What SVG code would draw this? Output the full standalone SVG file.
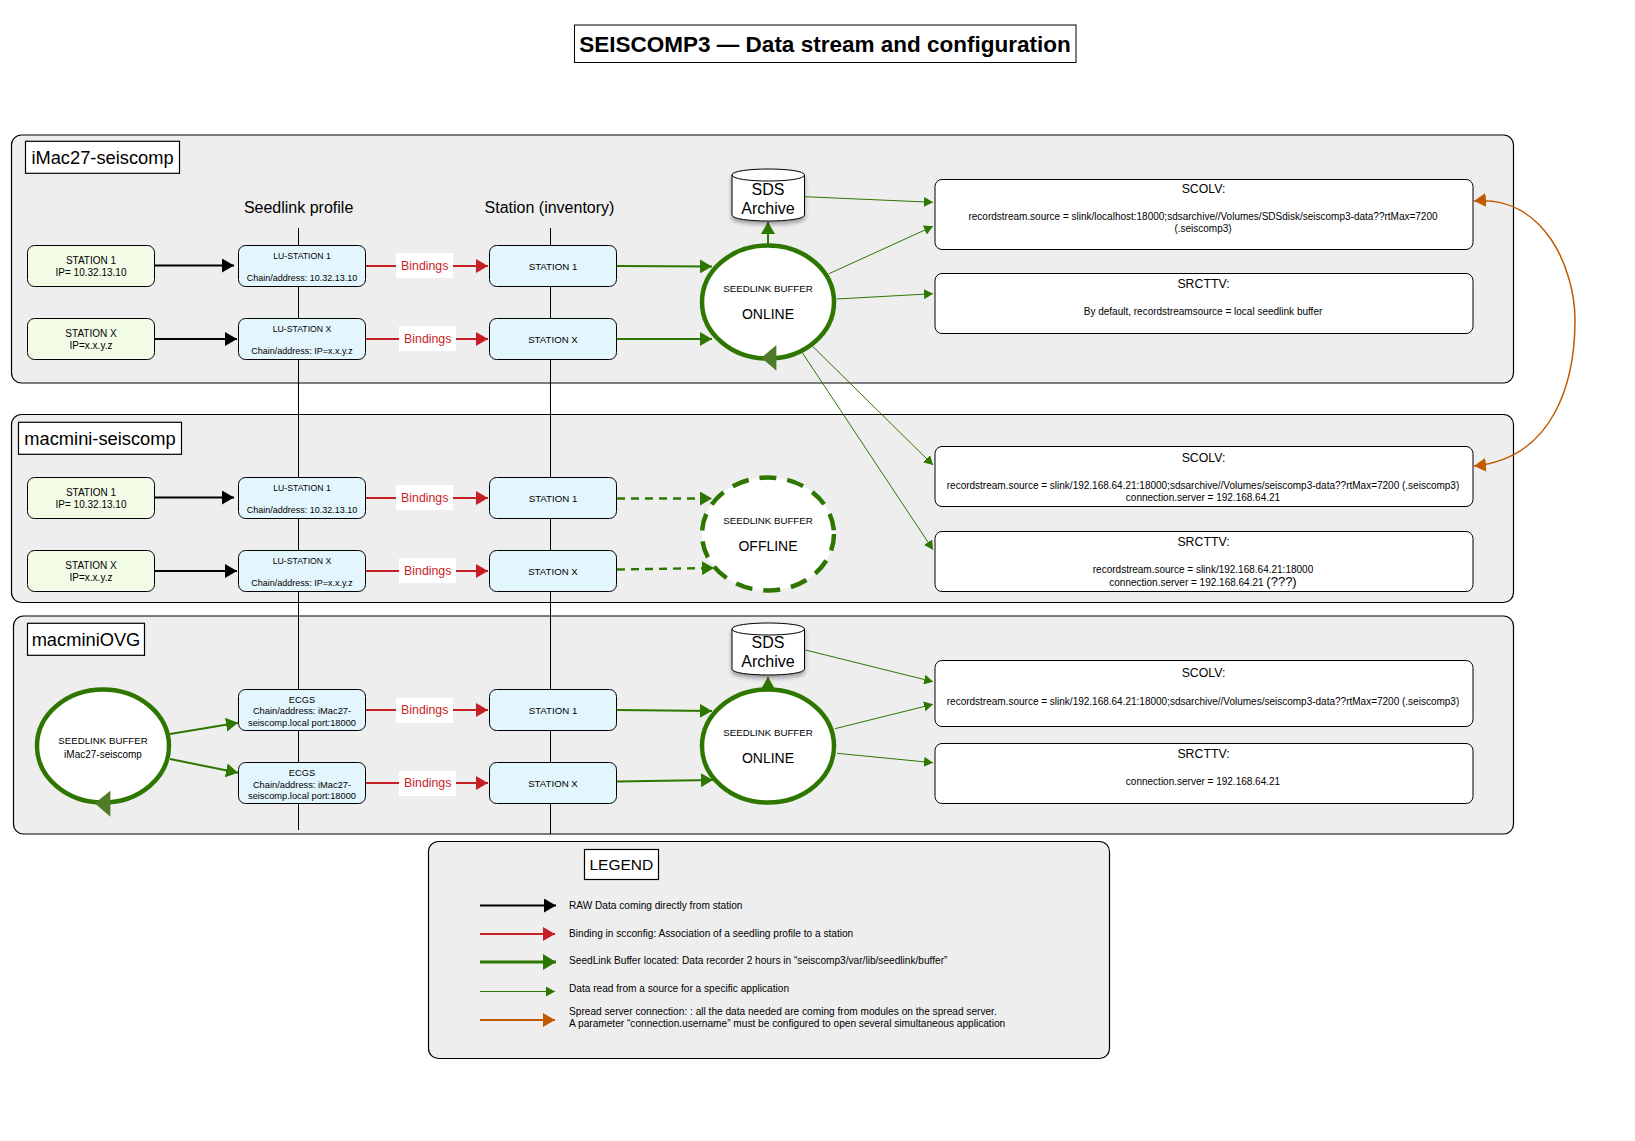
<svg xmlns="http://www.w3.org/2000/svg" width="1635" height="1141" viewBox="0 0 1635 1141">
<style>
text{font-family:"Liberation Sans",Arial,sans-serif;text-anchor:middle;fill:#000}
.panel{fill:#eee;stroke:#000;stroke-width:1.2}
.lab{fill:#fff;stroke:#000;stroke-width:1.2}
.src{fill:#f1fbe6;stroke:#000;stroke-width:1}
.sta{fill:#e3f6fd;stroke:#000;stroke-width:1}
.cfg{fill:#fff;stroke:#000;stroke-width:1}
.buf{fill:#fff;stroke:#2d7600;stroke-width:4.5}
.off{stroke-dasharray:17 11}
.s10{font-size:10px}.s9{font-size:9px}.s86{font-size:8.7px}.s93{font-size:9.3px}.s97{font-size:9.7px}.s12{font-size:12.3px}.s14{font-size:14px}.s16{font-size:16px}.s155{font-size:15.5px}.s185{font-size:18.3px}
.bind{fill:#fff}.bt{font-size:12.3px;fill:#c71e26}
.lg{font-size:10.15px;text-anchor:start}
.k{stroke:#000;stroke-width:2;fill:none}
.r{stroke:#c71e26;stroke-width:2;fill:none}
.g{stroke:#2d7600;stroke-width:2;fill:none}
.gd{stroke:#2d7600;stroke-width:2.4;fill:none;stroke-dasharray:8 6}
.t{stroke:#2d7600;stroke-width:1;fill:none}
.o{stroke:#c25a00;stroke-width:1.5;fill:none}
.v{stroke:#000;stroke-width:1;fill:none}
</style>
<defs>
<marker id="mk" markerUnits="userSpaceOnUse" markerWidth="13" markerHeight="14" refX="12" refY="7" orient="auto"><path d="M0 0L12 7L0 14z" fill="#000"/></marker>
<marker id="mr" markerUnits="userSpaceOnUse" markerWidth="13" markerHeight="14" refX="12" refY="7" orient="auto"><path d="M0 0L12 7L0 14z" fill="#c71e26"/></marker>
<marker id="mg" markerUnits="userSpaceOnUse" markerWidth="13" markerHeight="14" refX="12" refY="7" orient="auto"><path d="M0 0L12 7L0 14z" fill="#2d7600"/></marker>
<marker id="mt" markerUnits="userSpaceOnUse" markerWidth="10" markerHeight="10" refX="9" refY="5" orient="auto"><path d="M0 0L9 5L0 10z" fill="#2d7600"/></marker>
<marker id="mo" markerUnits="userSpaceOnUse" markerWidth="13" markerHeight="14" refX="12" refY="7" orient="auto-start-reverse"><path d="M0 0L12 7L0 14z" fill="#c25a00"/></marker>
<marker id="mgL" markerUnits="userSpaceOnUse" markerWidth="14" markerHeight="16" refX="13" refY="8" orient="auto"><path d="M0 0L13 8L0 16z" fill="#2d7600"/></marker>
<filter id="sh" x="-20%" y="-20%" width="140%" height="140%"><feDropShadow dx="0" dy="3" stdDeviation="2" flood-color="#000" flood-opacity=".35"/></filter>
</defs>
<rect width="1635" height="1141" fill="#fff"/>

<g id="title"><rect class="cfg" x="574.5" y="25" width="501.5" height="37.5" stroke-width="1.2"/><text x="825" y="52" font-size="22.5" font-weight="bold">SEISCOMP3 — Data stream and configuration</text></g>

<g id="panel-imac"><rect class="panel" x="11.5" y="135" width="1502" height="248" rx="10"/><rect class="lab" x="25.5" y="141.3" width="154" height="32"/><text class="s185" x="102.5" y="164">iMac27-seiscomp</text></g>
<g id="panel-macmini"><rect class="panel" x="11.5" y="414.5" width="1502" height="188" rx="10"/><rect class="lab" x="18.5" y="422.3" width="163" height="32"/><text class="s185" x="100" y="445">macmini-seiscomp</text></g>
<g id="panel-ovg"><rect class="panel" x="13.5" y="616" width="1500" height="218" rx="10"/><rect class="lab" x="27.5" y="623.3" width="117" height="32"/><text class="s185" x="86" y="646">macminiOVG</text></g>
<g id="panel-legend"><rect class="panel" x="428.5" y="841.5" width="681" height="217" rx="10"/><rect class="lab" x="584.5" y="849.5" width="74" height="30"/><text class="s155" x="621.3" y="870">LEGEND</text></g>

<g id="headers"><text class="s16" x="298.6" y="213">Seedlink profile</text><text class="s16" x="549.5" y="213">Station (inventory)</text></g>

<g id="connectors">
<path class="v" d="M298.5 228V830M550.5 228V834"/>
<path class="k" marker-end="url(#mk)" d="M154 265.5H234"/>
<path class="k" marker-end="url(#mk)" d="M154 339H237"/>
<path class="k" marker-end="url(#mk)" d="M154 497.5H234"/>
<path class="k" marker-end="url(#mk)" d="M154 571H237"/>
<path class="r" marker-end="url(#mr)" d="M366 266H488"/>
<path class="r" marker-end="url(#mr)" d="M366 339H488"/>
<path class="r" marker-end="url(#mr)" d="M366 498H488"/>
<path class="r" marker-end="url(#mr)" d="M366 571H488"/>
<path class="r" marker-end="url(#mr)" d="M366 710H488"/>
<path class="r" marker-end="url(#mr)" d="M366 783H488"/>
<path class="g" marker-end="url(#mg)" d="M617 266L712 266.5"/>
<path class="g" marker-end="url(#mg)" d="M617 339H712"/>
<path class="gd" marker-end="url(#mg)" d="M617 498.5H712"/>
<path class="gd" marker-end="url(#mg)" d="M617 569.5L714 568"/>
<path class="g" marker-end="url(#mg)" d="M617 710L712 711"/>
<path class="g" marker-end="url(#mg)" d="M617 781.5L713 780"/>
<path class="g" marker-end="url(#mg)" d="M170 734L238 722.7"/>
<path class="g" marker-end="url(#mg)" d="M170 759L238 772.7"/>
<path class="g" marker-end="url(#mg)" d="M768 246V222"/>
<path class="g" marker-end="url(#mg)" d="M768 690V677"/>
<path class="t" marker-end="url(#mt)" d="M804.6 196.7L933 202.3"/>
<path class="t" marker-end="url(#mt)" d="M829 273.7L933 226.3"/>
<path class="t" marker-end="url(#mt)" d="M836.7 299L933 293.7"/>
<path class="t" marker-end="url(#mt)" d="M813 346.7L933 465"/>
<path class="t" marker-end="url(#mt)" d="M802.3 352.7L933 549.7"/>
<path class="t" marker-end="url(#mt)" d="M805.5 650L933 681.7"/>
<path class="t" marker-end="url(#mt)" d="M835 728.7L933 704.3"/>
<path class="t" marker-end="url(#mt)" d="M837 753.3L933 762.7"/>
<path class="o" marker-start="url(#mo)" marker-end="url(#mo)" d="M1474 201C1545 195 1575 270 1575 320C1575 380 1555 458 1474 466"/>
</g>

<g id="bindings">
<g><rect class="bind" x="396" y="253" width="57" height="25"/><text class="bt" x="424.7" y="270">Bindings</text></g>
<g><rect class="bind" x="399" y="326" width="57" height="25"/><text class="bt" x="427.7" y="343">Bindings</text></g>
<g><rect class="bind" x="396" y="485" width="57" height="25"/><text class="bt" x="424.7" y="502">Bindings</text></g>
<g><rect class="bind" x="399" y="558" width="57" height="25"/><text class="bt" x="427.7" y="575">Bindings</text></g>
<g><rect class="bind" x="396" y="698" width="57" height="25"/><text class="bt" x="424.7" y="714">Bindings</text></g>
<g><rect class="bind" x="399" y="771" width="57" height="25"/><text class="bt" x="427.7" y="787">Bindings</text></g>
</g>

<g id="src1a"><rect class="src" x="27.5" y="245.5" width="127" height="41" rx="7"/><text class="s10" x="91" y="264">STATION 1</text><text class="s10" x="91" y="276">IP= 10.32.13.10</text></g>
<g id="src1b"><rect class="src" x="27.5" y="318.5" width="127" height="41" rx="7"/><text class="s10" x="91" y="337">STATION X</text><text class="s10" x="91" y="349">IP=x.x.y.z</text></g>
<g id="src2a"><rect class="src" x="27.5" y="477.5" width="127" height="41" rx="7"/><text class="s10" x="91" y="496">STATION 1</text><text class="s10" x="91" y="508">IP= 10.32.13.10</text></g>
<g id="src2b"><rect class="src" x="27.5" y="550.5" width="127" height="41" rx="7"/><text class="s10" x="91" y="569">STATION X</text><text class="s10" x="91" y="581">IP=x.x.y.z</text></g>

<g id="lu1a"><rect class="sta" x="238.5" y="245.5" width="127" height="41" rx="7"/><text class="s86" x="302" y="259">LU-STATION 1</text><text class="s9" x="302" y="281">Chain/address: 10.32.13.10</text></g>
<g id="lu1b"><rect class="sta" x="238.5" y="318.5" width="127" height="41" rx="7"/><text class="s86" x="302" y="332">LU-STATION X</text><text class="s9" x="302" y="354">Chain/address: IP=x.x.y.z</text></g>
<g id="lu2a"><rect class="sta" x="238.5" y="477.5" width="127" height="41" rx="7"/><text class="s86" x="302" y="491">LU-STATION 1</text><text class="s9" x="302" y="513">Chain/address: 10.32.13.10</text></g>
<g id="lu2b"><rect class="sta" x="238.5" y="550.5" width="127" height="41" rx="7"/><text class="s86" x="302" y="564">LU-STATION X</text><text class="s9" x="302" y="586">Chain/address: IP=x.x.y.z</text></g>
<g id="ecgs1"><rect class="sta" x="238.5" y="689.5" width="127" height="41" rx="7"/><text class="s93" x="302" y="703">ECGS</text><text class="s93" x="302" y="714">Chain/address: iMac27-</text><text class="s93" x="302" y="725.5">seiscomp.local port:18000</text></g>
<g id="ecgs2"><rect class="sta" x="238.5" y="762.5" width="127" height="41" rx="7"/><text class="s93" x="302" y="776">ECGS</text><text class="s93" x="302" y="787.5">Chain/address: iMac27-</text><text class="s93" x="302" y="798.5">seiscomp.local port:18000</text></g>

<g id="st1a"><rect class="sta" x="489.5" y="245.5" width="127" height="41" rx="7"/><text class="s97" x="553" y="270">STATION 1</text></g>
<g id="st1b"><rect class="sta" x="489.5" y="318.5" width="127" height="41" rx="7"/><text class="s97" x="553" y="343">STATION X</text></g>
<g id="st2a"><rect class="sta" x="489.5" y="477.5" width="127" height="41" rx="7"/><text class="s97" x="553" y="502">STATION 1</text></g>
<g id="st2b"><rect class="sta" x="489.5" y="550.5" width="127" height="41" rx="7"/><text class="s97" x="553" y="575">STATION X</text></g>
<g id="st3a"><rect class="sta" x="489.5" y="689.5" width="127" height="41" rx="7"/><text class="s97" x="553" y="714">STATION 1</text></g>
<g id="st3b"><rect class="sta" x="489.5" y="762.5" width="127" height="41" rx="7"/><text class="s97" x="553" y="787">STATION X</text></g>

<g id="buffer-online-1"><ellipse class="buf" cx="768" cy="302" rx="66" ry="56.5"/><path d="M776.4 345V370.7L761.5 357.7z" fill="#4f7a28"/><text class="s97" x="768" y="292">SEEDLINK BUFFER</text><text class="s14" x="768" y="319">ONLINE</text></g>
<g id="buffer-offline"><ellipse class="buf off" cx="768" cy="534" rx="66" ry="56.5"/><text class="s97" x="768" y="524">SEEDLINK BUFFER</text><text class="s14" x="768" y="551">OFFLINE</text></g>
<g id="buffer-online-3"><ellipse class="buf" cx="768" cy="746" rx="66" ry="56.5"/><text class="s97" x="768" y="735.5">SEEDLINK BUFFER</text><text class="s14" x="768" y="763">ONLINE</text></g>
<g id="buffer-imac"><ellipse class="buf" cx="103" cy="746" rx="66" ry="56.5"/><path d="M110.4 790.7V816.7L94.7 803.3z" fill="#4f7a28"/><text class="s97" x="103" y="744">SEEDLINK BUFFER</text><text class="s10" x="103" y="757.5">iMac27-seiscomp</text></g>

<g id="sds1"><path d="M732 175C732 167 804.5 167 804.5 175V215C804.5 223 732 223 732 215z" fill="#fff" stroke="#000" filter="url(#sh)"/><path d="M732 175C732 183 804.5 183 804.5 175" fill="none" stroke="#000"/><text class="s16" x="768" y="195">SDS</text><text class="s16" x="768" y="214">Archive</text></g>
<g id="sds3"><path d="M732 629C732 621 804.5 621 804.5 629V669C804.5 677 732 677 732 669z" fill="#fff" stroke="#000" filter="url(#sh)"/><path d="M732 629C732 637 804.5 637 804.5 629" fill="none" stroke="#000"/><text class="s16" x="768" y="648">SDS</text><text class="s16" x="768" y="667">Archive</text></g>

<g id="cfg1"><rect class="cfg" x="935" y="179.5" width="538" height="70" rx="7"/><text class="s12" x="1203.5" y="193">SCOLV:</text><text class="s10" x="1203" y="220">recordstream.source = slink/localhost:18000;sdsarchive//Volumes/SDSdisk/seiscomp3-data??rtMax=7200</text><text class="s10" x="1203" y="232">(.seiscomp3)</text></g>
<g id="cfg2"><rect class="cfg" x="935" y="273.5" width="538" height="60" rx="7"/><text class="s12" x="1203.5" y="288">SRCTTV:</text><text class="s10" x="1203" y="315">By default, recordstreamsource = local seedlink buffer</text></g>
<g id="cfg3"><rect class="cfg" x="935" y="446.5" width="538" height="60" rx="7"/><text class="s12" x="1203.5" y="462">SCOLV:</text><text class="s10" x="1203" y="489">recordstream.source = slink/192.168.64.21:18000;sdsarchive//Volumes/seiscomp3-data??rtMax=7200 (.seiscomp3)</text><text class="s10" x="1203" y="501">connection.server = 192.168.64.21</text></g>
<g id="cfg4"><rect class="cfg" x="935" y="531.5" width="538" height="60" rx="7"/><text class="s12" x="1203.5" y="546">SRCTTV:</text><text class="s10" x="1203" y="573">recordstream.source = slink/192.168.64.21:18000</text><text class="s10" x="1203" y="586">connection.server = 192.168.64.21 <tspan font-size="13">(???)</tspan></text></g>
<g id="cfg5"><rect class="cfg" x="935" y="660.5" width="538" height="66" rx="7"/><text class="s12" x="1203.5" y="677">SCOLV:</text><text class="s10" x="1203" y="705">recordstream.source = slink/192.168.64.21:18000;sdsarchive//Volumes/seiscomp3-data??rtMax=7200 (.seiscomp3)</text></g>
<g id="cfg6"><rect class="cfg" x="935" y="743.5" width="538" height="60" rx="7"/><text class="s12" x="1203.5" y="758">SRCTTV:</text><text class="s10" x="1203" y="785">connection.server = 192.168.64.21</text></g>

<g id="legend-items">
<path class="k" marker-end="url(#mk)" d="M480 905.5H556"/><text class="lg" x="569" y="909">RAW Data coming directly from station</text>
<path class="r" marker-end="url(#mr)" d="M480 934H555"/><text class="lg" x="569" y="937">Binding in scconfig: Association of a seedling profile to a station</text>
<path class="g" style="stroke-width:3" marker-end="url(#mgL)" d="M480 962H556"/><text class="lg" x="569" y="964">SeedLink Buffer located: Data recorder 2 hours in “seiscomp3/var/lib/seedlink/buffer”</text>
<path class="t" marker-end="url(#mt)" d="M480 991.5H555"/><text class="lg" x="569" y="992">Data read from a source for a specific application</text>
<path class="o" style="stroke-width:2" marker-end="url(#mo)" d="M480 1020H555"/><text class="lg" x="569" y="1015">Spread server connection: : all the data needed are coming from modules on the spread server.</text><text class="lg" x="569" y="1027">A parameter “connection.username” must be configured to open several simultaneous application</text>
</g>
</svg>
